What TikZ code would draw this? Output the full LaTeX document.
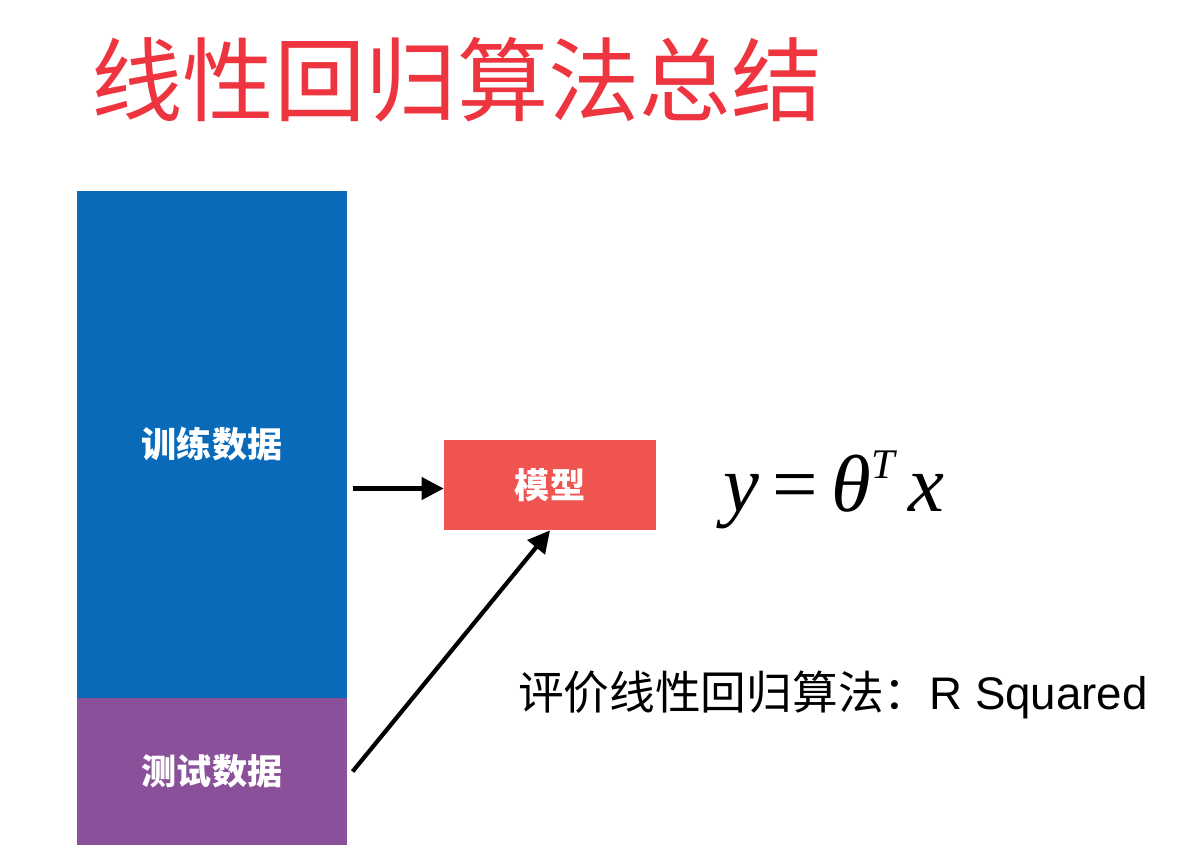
\documentclass[tikz,border=0pt]{standalone}
\usepackage{fontspec}
\setmainfont{Liberation Sans}
\newfontfamily\cjk{Noto Sans CJK SC}
\newfontfamily\serifa{Liberation Serif}
\usetikzlibrary{arrows.meta}
\definecolor{azuldatos}{RGB}{8,106,184}
\definecolor{moradodatos}{RGB}{138,80,154}
\definecolor{rojomodelo}{RGB}{240,84,80}
\definecolor{rojotitulo}{RGB}{238,52,62}
\begin{document}
\begin{tikzpicture}[x=0.02cm, y=-0.02cm]
  % Define box and box title style
  \tikzstyle{myboxdatos} = [rectangle, inner sep=0pt, minimum width=5.4cm,
  text=white, font=\cjk\bfseries\fontsize{20}{24}\selectfont]
  \tikzstyle{myboxmodelo} = [rectangle, fill=rojomodelo, inner sep=0pt,
  minimum width=4.24cm, minimum height=1.8cm, text=white,
  font=\cjk\bfseries\fontsize{20}{24}\selectfont]
  \tikzstyle{fancytitle} = [text=rojotitulo, font=\cjk\fontsize{52}{60}\selectfont]
  \tikzstyle{flecha} = [-{Triangle[length=0.44cm, width=0.44cm]}, line width=2.4pt]

  \useasboundingbox (0,0) rectangle (1197,858);

  \node[fancytitle] (titulo) at (457,80) {线性回归算法总结};

  \node[myboxdatos, fill=azuldatos, minimum height=10.14cm] (train) at (212,444.5) {训练数据};
  \node[myboxdatos, fill=moradodatos, minimum height=2.94cm] (test) at (212,771.5) {测试数据};
  \node[myboxmodelo] (modelo) at (550,485) {模型};

  \node (formula) at (834,490) {\serifa\fontsize{46}{52}\selectfont
    \itshape y\upshape\,=\,\itshape θ\raisebox{0.9ex}{\fontsize{24}{28}\selectfont T}\,x};
  \node (metrica) at (833,695) {\fontsize{26}{30}\selectfont{\cjk 评价线性回归算法：}R Squared};

  \draw[flecha] ([xshift=3pt,yshift=-2pt]train.east |- modelo.west) -- ([yshift=-2pt]modelo.west);
  \draw[flecha] ([xshift=3pt]test.east) -- (modelo.south);
\end{tikzpicture}
\end{document}
